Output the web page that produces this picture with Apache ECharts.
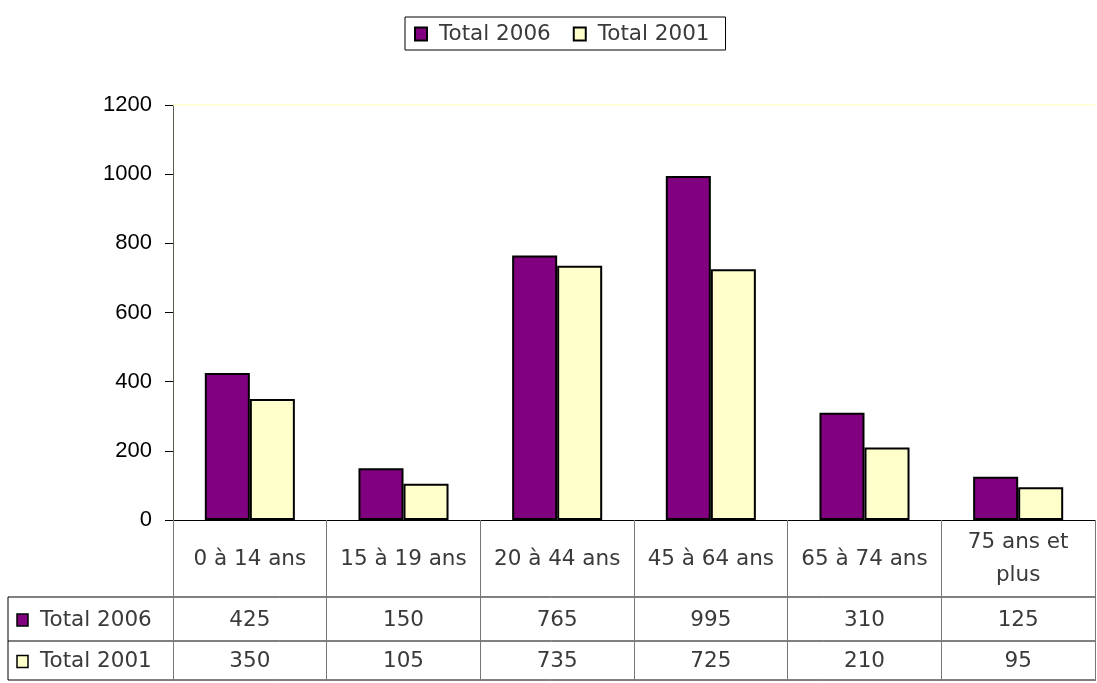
<!DOCTYPE html>
<html>
<head>
<meta charset="utf-8">
<script src="https://cdn.jsdelivr.net/npm/echarts@6/dist/echarts.min.js"></script>
<style>html,body{margin:0;padding:0;background:#fff}#c{width:1097px;height:683px}</style>
</head>
<body>
<div id="c"></div>
<script>
var categories = ['0 à 14 ans', '15 à 19 ans', '20 à 44 ans', '45 à 64 ans', '65 à 74 ans', '75 ans et\nplus'];
var total2006 = [425, 150, 765, 995, 310, 125];
var total2001 = [350, 105, 735, 725, 210, 95];
var seriesNames = ['Total 2006', 'Total 2001'];
var yTicks = [0, 200, 400, 600, 800, 1000, 1200];

var FONT = "'DejaVu Sans', sans-serif";
var FS = 21.5;
var TXT = '#3a3a3a';
var colors = ['#800080', '#FFFFCC'];

var chart = echarts.init(document.getElementById('c'), null, {renderer: 'canvas'});
var option = {
  animation: false,
  backgroundColor: '#fff',
  legend: {
    data: seriesNames,
    left: 405, top: 17,
    padding: [6, 16, 5, 9],
    borderColor: '#000', borderWidth: 1,
    itemWidth: 12, itemHeight: 13, itemGap: 22,
    icon: 'rect',
    textStyle: {fontFamily: FONT, fontSize: FS, color: TXT, padding: [0, 0, 0, 7]}
  },
  grid: {left: 173, right: 2, top: 105, bottom: 163, containLabel: false},
  xAxis: [{
    type: 'category', data: categories,
    axisLine: {lineStyle: {color: '#000', width: 1}},
    axisTick: {show: true, interval: 0, length: 161, lineStyle: {color: '#777'}},
    axisLabel: {interval: 0, margin: 39, verticalAlign: 'middle', fontFamily: FONT, fontSize: FS, color: TXT, lineHeight: 33}
  }, {
    type: 'category', data: categories, position: 'top',
    axisLine: {lineStyle: {color: '#FFFFCC', width: 1.5}},
    axisTick: {show: false}, axisLabel: {show: false}
  }],
  yAxis: {
    type: 'value', min: yTicks[0], max: yTicks[yTicks.length - 1], interval: 200,
    axisLine: {show: true, lineStyle: {color: '#5c5a48', width: 1}},
    axisTick: {show: true, length: 8, lineStyle: {color: '#000'}},
    splitLine: {show: false},
    axisLabel: {margin: 21, fontFamily: "'Liberation Sans', Arial, sans-serif", fontSize: 22, color: '#000',
      formatter: function (v) { return String(v); }}
  },
  series: [{
    name: seriesNames[0], type: 'bar', data: total2006, barWidth: '29.3%', barGap: '0%',
    itemStyle: {color: colors[0], borderColor: '#000', borderWidth: 2}
  }, {
    name: seriesNames[1], type: 'bar', data: total2001, barWidth: '29.3%', barGap: '0%',
    itemStyle: {color: colors[1], borderColor: '#000', borderWidth: 2}
  }]
};
chart.setOption(option);

// data table under the axis
var c0 = chart.convertToPixel({xAxisIndex: 0}, 0);
var c1 = chart.convertToPixel({xAxisIndex: 0}, 1);
var step = c1 - c0;
var plotLeft = c0 - step / 2;
var plotRight = plotLeft + step * categories.length;
var y0 = chart.convertToPixel({yAxisIndex: 0}, 0);
var tableLeft = 8;
var rowTops = [y0 + 77, y0 + 121, y0 + 160];
var els = [];
rowTops.forEach(function (y) {
  els.push({type: 'line', shape: {x1: tableLeft, y1: y, x2: plotRight, y2: y}, style: {stroke: '#000', lineWidth: 1}});
});
els.push({type: 'line', shape: {x1: tableLeft, y1: rowTops[0], x2: tableLeft, y2: rowTops[2]}, style: {stroke: '#000', lineWidth: 1}});
var rows = [total2006, total2001];
rows.forEach(function (vals, r) {
  var cy = (rowTops[r] + rowTops[r + 1]) / 2 + 1;
  els.push({type: 'rect', z: 10, shape: {x: tableLeft + 9, y: cy - 6, width: 11, height: 12}, style: {fill: colors[r], stroke: '#000', lineWidth: 1.5}});
  els.push({type: 'text', x: tableLeft + 32, y: cy, style: {text: seriesNames[r], font: FS + 'px ' + FONT, fill: TXT, verticalAlign: 'middle', align: 'left'}});
  vals.forEach(function (v, i) {
    els.push({type: 'text', x: chart.convertToPixel({xAxisIndex: 0}, i), y: cy, style: {text: String(v), font: FS + 'px ' + FONT, fill: TXT, verticalAlign: 'middle', align: 'center'}});
  });
});
chart.setOption({graphic: {elements: els}});
</script>
</body>
</html>
